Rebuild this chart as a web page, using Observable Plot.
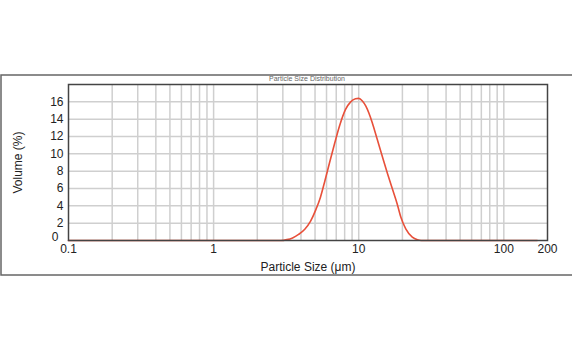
<!DOCTYPE html>
<html><head><meta charset="utf-8">
<script src="https://cdn.jsdelivr.net/npm/d3@7"></script>
<script src="https://cdn.jsdelivr.net/npm/@observablehq/plot@0.6"></script>
<style>body{margin:0;background:#fff} svg{display:block}</style>
</head><body><div id="chart"></div>
<script>
const title = "Particle Size Distribution";
const sizes  = [0.1, 0.5, 1, 2, 2.9, 3.2, 3.5, 3.85, 4.25, 4.65, 5.05, 5.45, 5.85, 6.3, 6.8, 7.4, 8.1, 8.8, 9.5, 10.0, 10.6, 11.2, 12.4, 13.4, 14.6, 15.8, 17.1, 18.5, 19.5, 21.1, 23.4, 25.4, 27, 50, 100, 170];
const volume = [0, 0, 0, 0, 0, 0.1, 0.3, 0.7, 1.3, 2.2, 3.5, 5.0, 6.9, 9.0, 11.1, 13.3, 15.1, 16.0, 16.35, 16.4, 16.1, 15.5, 13.6, 11.7, 9.6, 7.7, 5.9, 4.1, 2.7, 1.34, 0.38, 0.08, 0, 0, 0, 0];
const xTicks = [0.1, 1, 10, 100, 200];
const yTicks = [2, 4, 6, 8, 10, 12, 14, 16];
const yZero = [0];
const gridX = [0.2,0.3,0.4,0.5,0.6,0.7,0.8,0.9,1,2,3,4,5,6,7,8,9,10,20,30,40,50,60,70,80,90,100];
const gridY = [2, 4, 6, 8, 10, 12, 14, 16];

const data = sizes.map((s, i) => ({size: s, vol: volume[i]}));

const plot = Plot.plot({
  width: 572, height: 352,
  marginLeft: 68, marginRight: 25, marginTop: 84, marginBottom: 112,
  style: {fontFamily: "'Liberation Sans', Arial, sans-serif", fontSize: "12px", color: "#222", background: "#fff", overflow: "visible"},
  x: {type: "log", domain: [0.1, 200]},
  y: {domain: [0, 18]},
  marks: [
    Plot.gridX(gridX, {stroke: "#cfcfcf", strokeOpacity: 1, strokeWidth: 1.5}),
    Plot.gridY(gridY, {stroke: "#cfcfcf", strokeOpacity: 1, strokeWidth: 1.5}),
    Plot.axisX(xTicks, {tickSize: 0, tickPadding: 4, tickFormat: d => String(d), label: "Particle Size (μm)", labelAnchor: "center", labelOffset: 30, labelArrow: "none", fontSize: 12}),
    Plot.axisY(yTicks, {tickSize: 0, tickPadding: 5, label: "Volume (%)", labelAnchor: "center", labelOffset: 55, labelArrow: "none", fontSize: 12}),
    Plot.axisY(yZero, {tickSize: 0, tickPadding: 5, dx: -5, dy: -3, label: null, fontSize: 12}),
    Plot.line(data, {x: "size", y: "vol", stroke: "#e8503a", strokeWidth: 1.6, curve: "monotone-x"}),
    Plot.frame({stroke: "#444", strokeWidth: 1.5})
  ]
});

const svg = d3.select(plot);
svg.append("rect").attr("x", 1).attr("y", 75).attr("width", 575).attr("height", 200)
  .attr("fill", "none").attr("stroke", "#666").attr("stroke-width", 1.5);
svg.append("text").attr("x", 307).attr("y", 81).attr("text-anchor", "middle")
  .attr("font-size", 7).attr("fill", "#666").text(title);

document.getElementById("chart").appendChild(plot);
</script>
</body></html>
